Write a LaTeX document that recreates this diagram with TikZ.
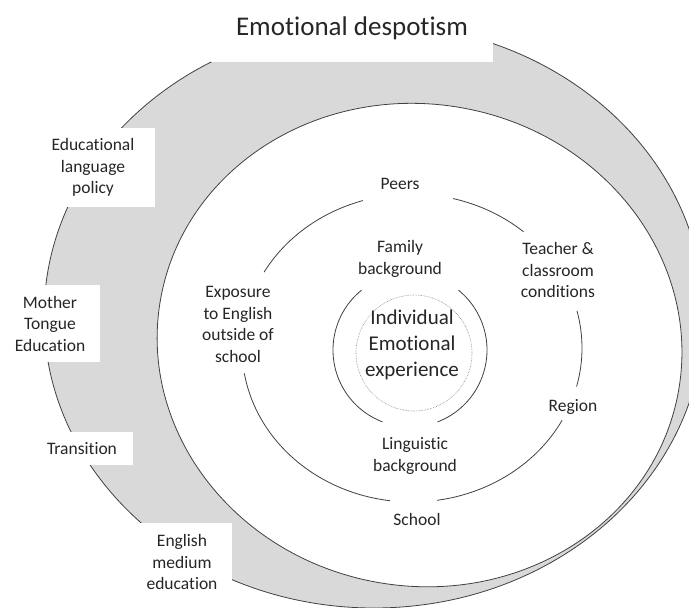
\documentclass[tikz,border=0pt]{standalone}
\usepackage{fontspec}
\setmainfont{Carlito}[Ligatures=NoCommon]
\definecolor{ring}{HTML}{D9D9D9}
\definecolor{ln}{HTML}{404040}
\definecolor{txt}{HTML}{262626}
\begin{document}
\begin{tikzpicture}[x=1pt,y=-1pt,
  lbl/.style={font=\fontsize{17.5}{21.5}\selectfont, align=center, text=txt, inner sep=0pt},
  biglbl/.style={font=\fontsize{21}{26}\selectfont, align=center, text=txt, inner sep=0pt},
  titlelbl/.style={font=\fontsize{27}{32}\selectfont, text=txt, inner sep=0pt},
  wbox/.style={lbl, fill=white},
  edge/.style={draw=ln, line width=0.8pt},
  ringline/.style={draw=ln, line width=0.8pt}]
\useasboundingbox (0,0) rectangle (689,608);
% centres
\coordinate (O) at (374,316);
\coordinate (W) at (419.5,345);
\coordinate (M) at (412,348);
\coordinate (I) at (410,350);
\coordinate (D) at (414,353);
% grey ring and white disc
\path[fill=ring, ringline] (O) ellipse [x radius=330pt, y radius=292pt];
\path[fill=white, ringline, rotate around={-10:(W)}] (W) ellipse [x radius=263pt, y radius=241pt];
% left label boxes
\node[wbox, minimum width=124pt, minimum height=79pt] (edu) at (93,167.5) {Educational\\language\\policy};
\node[wbox, minimum width=100pt, minimum height=77pt] (mte) at (50,323.5) {Mother\\Tongue\\Education};
\node[wbox, minimum width=102pt, minimum height=33pt] (tra) at (82,448.5) {Transition};
\node[wbox, minimum width=100pt, minimum height=78pt] (eme) at (182,562) {English\\medium\\education};
% title
\path[fill=white] (211,0) rectangle (493,62);
\node[titlelbl] (title) at (352,28) {Emotional despotism};
% middle ring arcs
\draw[edge] (M) ++(49:170pt and 154pt) arc[start angle=49, end angle=76, x radius=170pt, y radius=154pt];
\draw[edge] (M) ++(-14.5:170pt and 154pt) arc[start angle=-14.5, end angle=14, x radius=170pt, y radius=154pt];
\draw[edge] (M) ++(-81.5:170pt and 154pt) arc[start angle=-81.5, end angle=-28, x radius=170pt, y radius=154pt];
\draw[edge] (M) ++(189.5:170pt and 154pt) arc[start angle=189.5, end angle=262.5, x radius=170pt, y radius=154pt];
\draw[edge] (M) ++(106.8:170pt and 154pt) arc[start angle=106.8, end angle=150.5, x radius=170pt, y radius=154pt];
% inner ring arcs
\draw[edge] (I) ++(-69:77pt) arc[start angle=-69, end angle=51, radius=77pt];
\draw[edge] (I) ++(129:77pt) arc[start angle=129, end angle=249, radius=77pt];
% dotted core
\draw[gray, densely dotted, line width=0.6pt] (D) circle [radius=58pt];
% labels
\node[lbl] (peers) at (400,184) {Peers};
\node[lbl] (fam) at (400,259) {Family\\background};
\node[lbl] (teach) at (558,270) {Teacher \&\\classroom\\conditions};
\node[lbl] (expo) at (238,324.5) {Exposure\\to English\\outside of\\school};
\node[lbl] (reg) at (573,407) {Region};
\node[lbl] (ling) at (415,456) {Linguistic\\background};
\node[lbl] (school) at (417,519) {School};
\node[biglbl] (indiv) at (412,345) {Individual\\Emotional\\experience};
\end{tikzpicture}
\end{document}
